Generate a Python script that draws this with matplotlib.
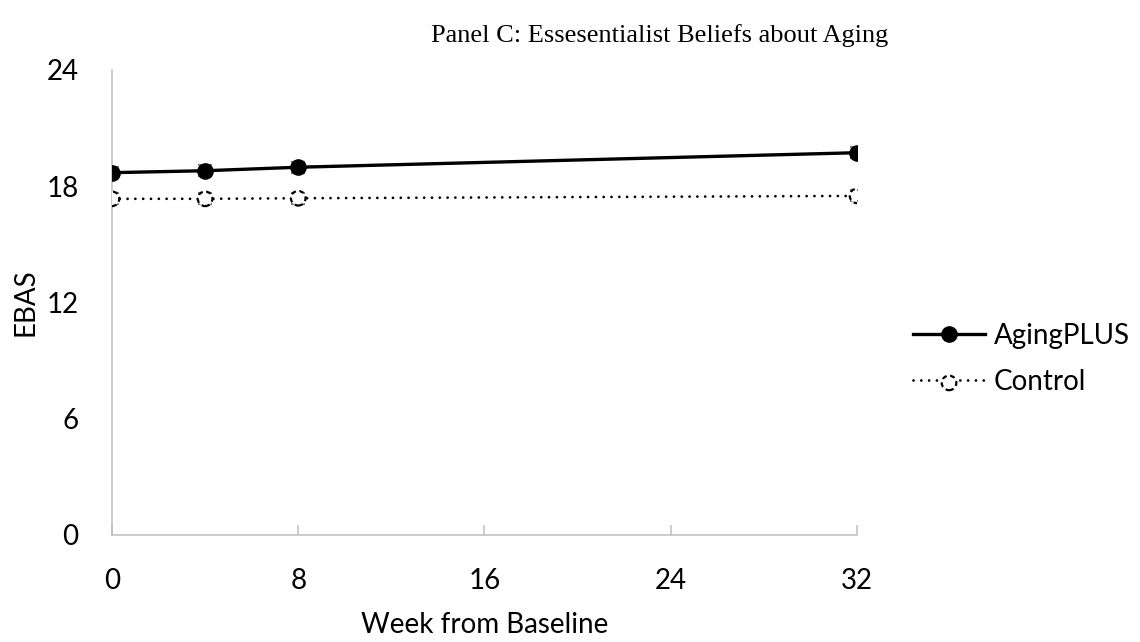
import matplotlib
matplotlib.use("Agg")
import matplotlib.pyplot as plt
from matplotlib.lines import Line2D
from matplotlib.legend_handler import HandlerTuple

# EBAS means by week, with standard errors
weeks = [0, 4, 8, 32]
aging_plus = [18.70, 18.80, 18.98, 19.73]
aging_plus_se = [0.28, 0.28, 0.28, 0.28]
control = [17.35, 17.35, 17.38, 17.50]
control_se = [0.28, 0.28, 0.28, 0.28]

x_ticks = [0, 8, 16, 24, 32]
y_ticks = [0, 6, 12, 18, 24]

plt.rcParams['font.family'] = ['Lato', 'DejaVu Sans']

fig = plt.figure(figsize=(11.4, 6.42), dpi=100)
ax = fig.add_axes([0.0982, 0.1667, 0.6536, 0.7243])

spine_gray = '#bfbfbf'
err_gray = '#808080'
fs = 20

# AgingPLUS: solid line, filled markers
ax.errorbar(weeks, aging_plus, yerr=aging_plus_se, fmt='none', ecolor=err_gray,
            elinewidth=1.2, capsize=5, capthick=1.6, zorder=2)
ax.plot(weeks, aging_plus, color='black', linewidth=2.4, zorder=3)
ax.scatter(weeks, aging_plus, s=120, color='black', zorder=4)

# Control: dotted line, open markers with dashed border
ax.errorbar(weeks, control, yerr=control_se, fmt='none', ecolor=err_gray,
            elinewidth=1.2, capsize=5, capthick=1.6, zorder=2)
ax.plot(weeks, control, color='black', linewidth=2.0, linestyle=(0, (0.01, 2.8)),
        dash_capstyle='round', zorder=3)
ctrl_pts = ax.scatter(weeks, control, s=110, facecolors='white', edgecolors='black',
                      linewidths=1.6, linestyles=(0, (2.2, 1.6)), zorder=4)

ax.set_xlim(0, 32)
ax.set_ylim(0, 24)
ax.set_xticks(x_ticks)
ax.set_yticks(y_ticks)
ax.tick_params(axis='x', direction='in', length=7, width=1.1, color=spine_gray,
               pad=24, labelsize=fs)
ax.tick_params(axis='y', length=0, pad=24, labelsize=fs)
for side in ['top', 'right']:
    ax.spines[side].set_visible(False)
for side in ['left', 'bottom']:
    ax.spines[side].set_color(spine_gray)
    ax.spines[side].set_linewidth(1.1)

ax.set_xlabel('Week from Baseline', fontsize=fs, labelpad=13)
ax.set_ylabel('EBAS', fontsize=fs, labelpad=6)

fig.text(0.579, 0.944, 'Panel C: Essesentialist Beliefs about Aging',
         family='Liberation Serif', fontsize=19, ha='center', va='center')

# legend handles
h_ap_line = Line2D([], [], color='black', linewidth=2.4, marker='o', markersize=11)
h_ct_line = Line2D([], [], color='black', linewidth=2.0, linestyle=(0, (0.01, 2.8)),
                   dash_capstyle='round')
leg = ax.legend([h_ap_line, (h_ct_line, ctrl_pts)], ['AgingPLUS', 'Control'],
                handler_map={tuple: HandlerTuple(ndivide=1)},
                loc='center left', bbox_to_anchor=(1.075, 0.378), frameon=False,
                fontsize=fs, handlelength=2.6, handletextpad=0.3, labelspacing=0.72,
                borderpad=0, borderaxespad=0, scatterpoints=1)

fig.savefig('out.png', dpi=100)
